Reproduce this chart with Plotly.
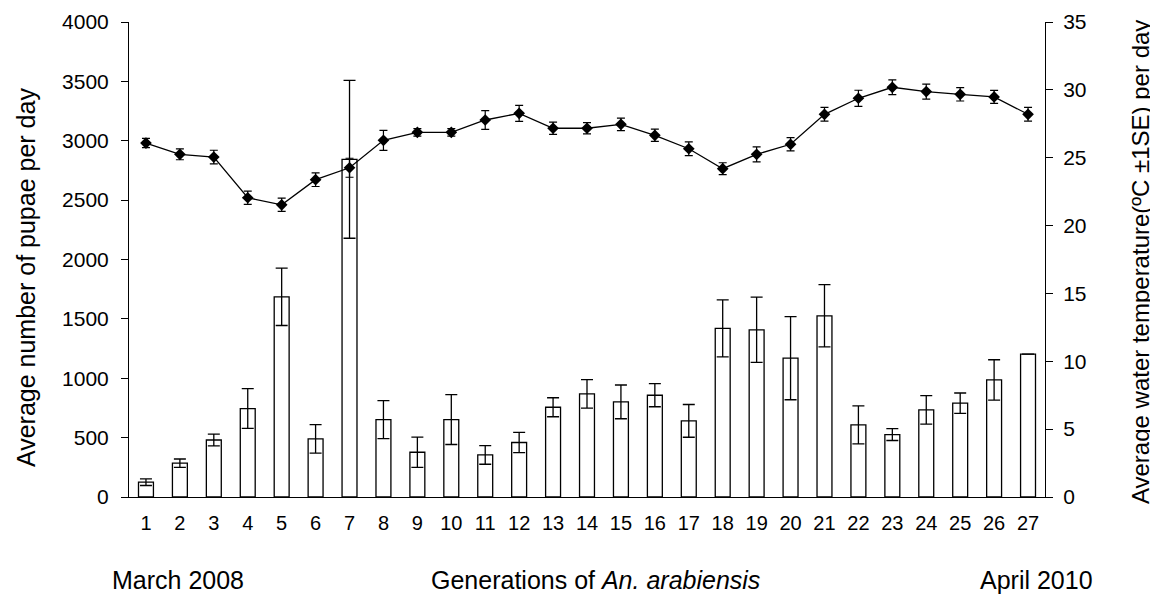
import plotly.graph_objects as go

generations = list(range(1, 28))
gen_labels = [str(g) for g in generations]

pupae_mean = [125, 285, 480, 745, 1686, 489, 2844, 652, 377, 652, 354, 459, 756, 868,
              801, 857, 641, 1420, 1408, 1169, 1526, 607, 526, 733, 790, 986, 1203]
pupae_se = [28, 35, 50, 167, 242, 120, 665, 160, 128, 210, 78, 85, 80, 120,
            142, 97, 138, 240, 275, 350, 262, 160, 50, 120, 86, 170, 0]

temp_mean = [26.08, 25.25, 25.05, 22.05, 21.53, 23.38, 24.26, 26.28, 26.87, 26.87,
             27.78, 28.27, 27.17, 27.17, 27.46, 26.65, 25.66, 24.19, 25.25, 25.99,
             28.20, 29.38, 30.19, 29.87, 29.67, 29.48, 28.20]
temp_se = [0.34, 0.40, 0.50, 0.49, 0.49, 0.50, 0.70, 0.74, 0.28, 0.28,
           0.69, 0.59, 0.45, 0.42, 0.46, 0.45, 0.50, 0.44, 0.55, 0.49,
           0.51, 0.59, 0.54, 0.55, 0.49, 0.48, 0.51]

boundaries = [g - 0.5 for g in generations] + [generations[-1] + 0.5]

FONT = "Liberation Sans, Arial, sans-serif"
xr = [0.5, 27.5]

fig = go.Figure()
fig.add_trace(go.Bar(
    x=generations, y=pupae_mean, width=0.44,
    marker=dict(color="white", line=dict(color="black", width=1.3)),
    error_y=dict(type="data", array=pupae_se, color="black", thickness=1.3, width=6),
    xaxis="x", yaxis="y", showlegend=False,
))
fig.add_trace(go.Scatter(
    x=generations, y=temp_mean, mode="lines+markers",
    line=dict(color="black", width=1.3),
    marker=dict(symbol="diamond", size=9, color="black"),
    error_y=dict(type="data", array=temp_se, color="black", thickness=1.2, width=4),
    xaxis="x", yaxis="y2", showlegend=False,
))

axis_common = dict(showgrid=False, zeroline=False, linecolor="black", linewidth=1,
                   tickcolor="black", tickwidth=1, ticklen=7, automargin=False)

fig.update_layout(
    width=1150, height=593,
    margin=dict(l=121, r=113, t=14, b=104),
    paper_bgcolor="white", plot_bgcolor="white",
    font=dict(family=FONT, color="black", size=20),
    xaxis=dict(range=xr, tickvals=generations, ticktext=gen_labels, ticks="",
               showline=True, tickfont=dict(size=20), ticklabelstandoff=8,
               **{k: v for k, v in axis_common.items() if k not in ("ticklen",)}),
    xaxis2=dict(range=xr, overlaying="x", anchor="y", side="bottom", tickvals=boundaries,
                ticks="outside", showticklabels=False, showline=False, **axis_common),
    xaxis3=dict(range=xr, overlaying="x", anchor="y", side="bottom", tickvals=boundaries,
                ticks="inside", showticklabels=False, showline=False, **axis_common),
    yaxis=dict(range=[0, 4000], dtick=500, ticks="outside", showline=True,
               tickfont=dict(size=21), ticklabelstandoff=8, **axis_common),
    yaxis3=dict(range=[0, 4000], dtick=500, overlaying="y", anchor="x", side="left",
                ticks="inside", showticklabels=False, showline=False, **axis_common),
    yaxis2=dict(range=[0, 35], dtick=5, overlaying="y", anchor="x", side="right",
                ticks="outside", showline=True, tickfont=dict(size=21),
                ticklabelstandoff=6, **axis_common),
    yaxis4=dict(range=[0, 35], dtick=5, overlaying="y", anchor="x", side="right",
                ticks="inside", showticklabels=False, showline=False, **axis_common),
    bargap=0.56,
)

fig.add_annotation(text="Average number of pupae per day", textangle=-90,
                   xref="paper", yref="paper", x=-0.1124, y=0.461,
                   xanchor="center", yanchor="middle", showarrow=False,
                   font=dict(size=25))
fig.add_annotation(text="Average water temperature(ºC ±1SE) per day", textangle=-90,
                   xref="paper", yref="paper", x=1.105, y=0.495,
                   xanchor="center", yanchor="middle", showarrow=False,
                   font=dict(size=24))
fig.add_annotation(text="March 2008", xref="paper", yref="paper", x=0.0535, y=-0.175,
                   xanchor="center", yanchor="middle", showarrow=False, font=dict(size=25))
fig.add_annotation(text="Generations of <i>An. arabiensis</i>", xref="paper", yref="paper",
                   x=0.509, y=-0.175, xanchor="center", yanchor="middle",
                   showarrow=False, font=dict(size=25))
fig.add_annotation(text="April 2010", xref="paper", yref="paper", x=0.991, y=-0.175,
                   xanchor="center", yanchor="middle", showarrow=False, font=dict(size=25))

fig.write_html("out.html")
